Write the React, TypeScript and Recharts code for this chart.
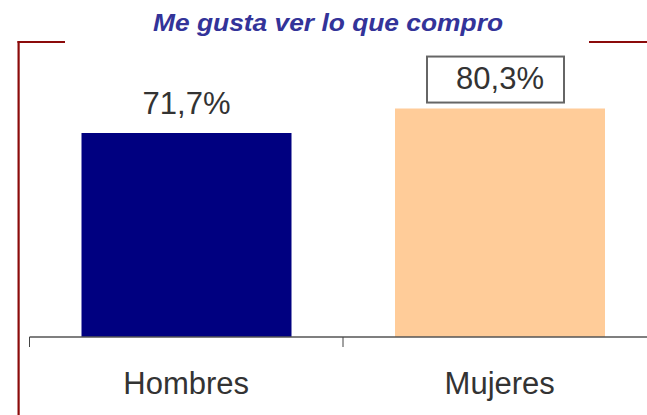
import React from 'react';
import { BarChart, Bar, XAxis, YAxis, Cell, LabelList, Customized } from 'recharts';

const categories = ['Hombres', 'Mujeres'];
const values = [71.7, 80.3];
const barColors = ['#000080', '#FFCC99'];
const boxedLabel = [false, true];
const title = 'Me gusta ver lo que compro';

const data = categories.map((name, i) => ({ name, value: values[i] }));

const CHART_W = 700;
const CHART_H = 415;
const MARGIN = { top: 52.5, left: 29.5, right: 43.5, bottom: 18 };
const XAXIS_H = 60;
const BAND = (CHART_W - MARGIN.left - MARGIN.right) / categories.length;
const FONT = '"Liberation Sans", Arial, Helvetica, sans-serif';

const fmt = (v: number) => v.toFixed(1).replace('.', ',') + '%';

function AxisTick(props: any) {
  const { x, y, payload } = props;
  const left = x - BAND / 2;
  return (
    <g>
      <line x1={left} x2={left} y1={y} y2={y + 10} stroke="#444" strokeWidth={1} />
      <text x={x} y={y + 57} textAnchor="middle" fontSize={31} fill="#333" fontFamily={FONT}>
        {payload.value}
      </text>
    </g>
  );
}

function ValueLabel(props: any) {
  const { x, y, width, value } = props;
  let index = props.index;
  if (index === undefined || index === null) index = values.indexOf(value);
  const cx = Number(x) + Number(width) / 2;
  const top = Number(y);
  return (
    <g>
      {boxedLabel[index] && (
        <rect x={cx - 73} y={top - 52} width={137} height={46} fill="#ffffff" stroke="#666" strokeWidth={2} />
      )}
      <text x={cx} y={top - 19.5} textAnchor="middle" fontSize={31} fill="#333" fontFamily={FONT}>
        {fmt(Number(value))}
      </text>
    </g>
  );
}

function Decor() {
  const red = '#8B0A0A';
  return (
    <g>
      <text
        x={328}
        y={30.5}
        textAnchor="middle"
        fontSize={23}
        fontWeight="bold"
        fontStyle="italic"
        fill="#333399"
        fontFamily={FONT}
        textLength={350}
        lengthAdjust="spacingAndGlyphs"
      >
        {title}
      </text>
      <line x1={17.5} x2={65} y1={42} y2={42} stroke={red} strokeWidth={2.2} />
      <line x1={18.6} x2={18.6} y1={41} y2={415} stroke={red} strokeWidth={2.2} />
      <line x1={589} x2={647} y1={42} y2={42} stroke={red} strokeWidth={2.2} />
    </g>
  );
}

export default function App() {
  return (
    <div style={{ position: 'absolute', left: 0, top: 0, width: 647, height: 415, overflow: 'hidden', background: '#fff' }}>
      <BarChart width={CHART_W} height={CHART_H} data={data} margin={MARGIN}>
        <Customized component={Decor} />
        <YAxis hide domain={[0, 100]} />
        <XAxis
          dataKey="name"
          height={XAXIS_H}
          axisLine={{ stroke: '#555', strokeWidth: 1.5 }}
          tickLine={false}
          tickSize={0}
          tickMargin={0}
          interval={0}
          tick={<AxisTick />}
        />
        <Bar dataKey="value" barSize={210} isAnimationActive={false}>
          {data.map((d, i) => (
            <Cell key={d.name} fill={barColors[i]} />
          ))}
          <LabelList dataKey="value" content={<ValueLabel />} />
        </Bar>
      </BarChart>
    </div>
  );
}
